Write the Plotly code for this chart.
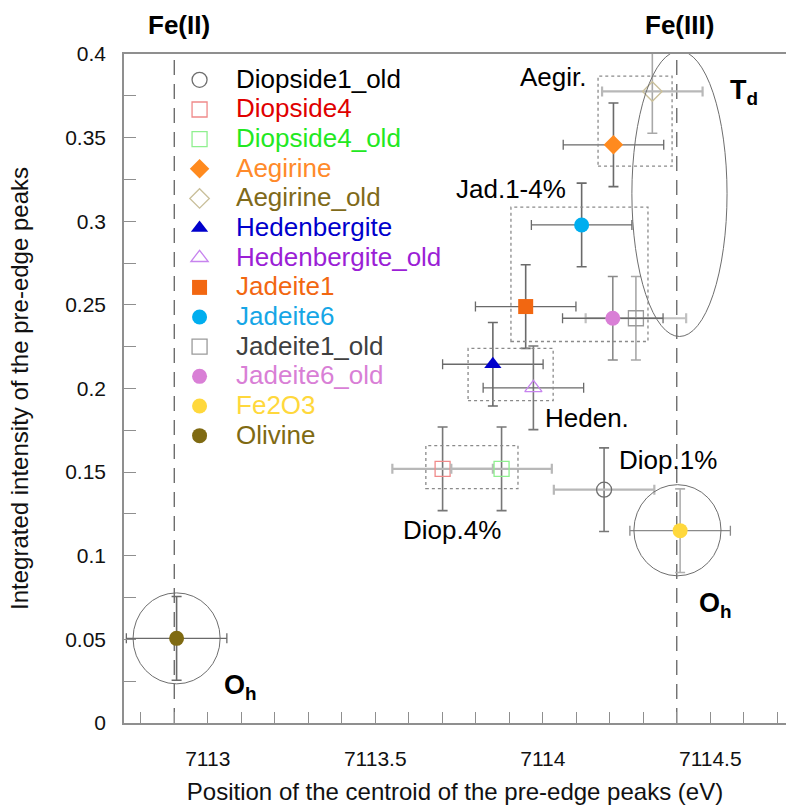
import plotly.graph_objects as go

# ---------------- data ----------------
names = ["Diopside1_old", "Diopside4", "Diopside4_old", "Aegirine", "Aegirine_old",
         "Hedenbergite", "Hedenbergite_old", "Jadeite1", "Jadeite6", "Jadeite1_old",
         "Jadeite6_old", "Fe2O3", "Olivine"]
centroid_ev = [7114.183, 7113.701, 7113.877, 7114.211, 7114.327,
               7113.851, 7113.972, 7113.949, 7114.116, 7114.278,
               7114.209, 7114.410, 7112.907]
intensity = [0.1395, 0.152, 0.152, 0.3457, 0.3776,
             0.2145, 0.2004, 0.249, 0.2978, 0.242,
             0.242, 0.115, 0.0506]
centroid_err = [0.15, 0.15, 0.15, 0.15, 0.15, 0.15, 0.15, 0.15, 0.15, 0.15, 0.15, 0.15, 0.15]
intensity_err = [0.025, 0.025, 0.025, 0.025, 0.025, 0.025, 0.025, 0.025, 0.025, 0.025, 0.025, 0.025, 0.025]

x_tick_vals = [7113, 7113.5, 7114, 7114.5]
x_tick_text = ["7113", "7113.5", "7114", "7114.5"]
y_tick_vals = [0, 0.05, 0.1, 0.15, 0.2, 0.25, 0.3, 0.35, 0.4]
y_tick_text = ["0", "0.05", "0.1", "0.15", "0.2", "0.25", "0.3", "0.35", "0.4"]

fe2_position = 7112.9
fe3_position = 7114.4

# grouping regions (x0, x1, y0, y1)
dotted_boxes = [
    (7114.165, 7114.386, 0.3329, 0.3868),   # Aegir.
    (7113.905, 7114.314, 0.2281, 0.3084),   # Jad.1-4%
    (7113.777, 7114.031, 0.1928, 0.2240),   # Heden.
    (7113.651, 7113.926, 0.1401, 0.1659),   # Diop.4%
]
ellipses = [
    (7114.266, 7114.550, 0.2311, 0.4018),   # Td
    (7114.272, 7114.532, 0.0880, 0.1425),   # Oh Fe(III)
    (7112.777, 7113.037, 0.0234, 0.0778),   # Oh Fe(II)
]

# ---------------- styles ----------------
symbols = ["circle-open", "square-open", "square-open", "diamond", "diamond-open",
           "triangle-up", "triangle-up-open", "square", "circle", "square-open",
           "circle", "circle", "circle"]
marker_colors = ["#6e6e6e", "#f08a8a", "#8ff08f", "#ff8a1e", "#c9bf9a",
                 "#0000cc", "#c784ee", "#f26711", "#00aeef", "#9a9a9a",
                 "#d97fd6", "#ffd83c", "#7f6a12"]
label_colors = ["#000000", "#e00000", "#22e822", "#ff8a2a", "#7f6a1a",
                "#0000cc", "#9b1fd6", "#f26711", "#16a6e6", "#404040",
                "#d97fd6", "#ffd83c", "#7f6a12"]
errx_colors = ["#b8b8b8", "#b8b8b8", "#b8b8b8", "#6a6a6a", "#b8b8b8",
               "#6a6a6a", "#6a6a6a", "#6a6a6a", "#6a6a6a", "#c0c0c0",
               "#6a6a6a", "#8a8a8a", "#6a6a6a"]
erry_colors = ["#777777", "#777777", "#777777", "#6a6a6a", "#a8a8a8",
               "#6a6a6a", "#777777", "#6a6a6a", "#6a6a6a", "#a8a8a8",
               "#8a8a8a", "#b0b0b0", "#6a6a6a"]

FONT = "Liberation Sans, Arial, sans-serif"

fig = go.Figure()
for i, nm in enumerate(names):
    is_open = symbols[i].endswith("open")
    fig.add_trace(go.Scatter(
        x=[centroid_ev[i]], y=[intensity[i]],
        mode="markers",
        name=f"<span style='color:{label_colors[i]};font-size:26px'>{nm}</span>",
        legendgroup=nm,
        marker=dict(symbol=symbols[i], size=15, color=marker_colors[i],
                    line=dict(width=1.3 if is_open else 0, color=marker_colors[i])),
        error_x=dict(type="data", array=[centroid_err[i]], color=errx_colors[i],
                     thickness=2.2 if errx_colors[i] in ("#b8b8b8", "#c0c0c0") else 1.3, width=5),
        error_y=dict(type="data", array=[intensity_err[i]], color=erry_colors[i],
                     thickness=1.6, width=5),
        cliponaxis=True,
    ))

shapes = []
for vx in (fe2_position, fe3_position):
    shapes.append(dict(type="line", xref="x", yref="y", x0=vx, x1=vx, y0=0, y1=0.4,
                       line=dict(color="#555555", width=1.2, dash="15px,9px"), layer="below"))
for (x0, x1, y0, y1) in dotted_boxes:
    shapes.append(dict(type="rect", xref="x", yref="y", x0=x0, x1=x1, y0=y0, y1=y1,
                       line=dict(color="#8a8a8a", width=1.3, dash="dot")))
for (x0, x1, y0, y1) in ellipses:
    shapes.append(dict(type="circle", xref="x", yref="y", x0=x0, x1=x1, y0=y0, y1=y1,
                       line=dict(color="#6e6e6e", width=1)))

LBL = dict(size=26, family=FONT, color="black")
SYM = dict(size=27, family=FONT, color="black")
annotations = [
    dict(x=fe2_position, y=1.043, xref="x", yref="paper", text="<b>Fe(II)</b>", showarrow=False,
         font=LBL, yanchor="middle", xshift=5),
    dict(x=fe3_position, y=1.043, xref="x", yref="paper", text="<b>Fe(III)</b>", showarrow=False,
         font=LBL, yanchor="middle", xshift=3),
    dict(x=7114.60, y=0.377, text="<b>T<sub>d</sub></b>", showarrow=False, font=SYM),
    dict(x=7114.515, y=0.0705, text="<b>O<sub>h</sub></b>", showarrow=False, font=SYM),
    dict(x=7113.097, y=0.0215, text="<b>O<sub>h</sub></b>", showarrow=False, font=SYM),
    dict(x=7114.031, y=0.3862, text="Aegir.", showarrow=False, font=LBL),
    dict(x=7113.905, y=0.3192, text="Jad.1-4%", showarrow=False, font=LBL),
    dict(x=7114.132, y=0.1826, text="Heden.", showarrow=False, font=LBL),
    dict(x=7114.374, y=0.1575, text="Diop.1%", showarrow=False, font=LBL),
    dict(x=7113.729, y=0.1156, text="Diop.4%", showarrow=False, font=LBL),
]

axis_line = "#8f8f8f"
fig.update_layout(
    width=786, height=805,
    margin=dict(l=124, r=0, t=54, b=82, autoexpand=False),
    paper_bgcolor="white", plot_bgcolor="white",
    font=dict(family=FONT, color="#111111"),
    showlegend=True,
    legend=dict(x=0.059, y=0.991, xanchor="left", yanchor="top",
                font=dict(size=20.5, family=FONT), bgcolor="rgba(0,0,0,0)",
                tracegroupgap=0, itemwidth=63, borderwidth=0),
    shapes=shapes,
    annotations=annotations,
    xaxis=dict(range=[7112.75, 7114.726], tickvals=x_tick_vals, ticktext=x_tick_text,
               automargin=False,
               showgrid=False, zeroline=False, showline=True, linecolor=axis_line, linewidth=1.5,
               mirror=True, ticks="inside", ticklen=11, tickcolor=axis_line, tickwidth=1,
               minor=dict(dtick=0.1, tick0=7112.8, ticks="inside", ticklen=11,
                          tickcolor=axis_line, tickwidth=1, showgrid=False),
               tickfont=dict(size=21, family=FONT, color="#111111"),
               ticklabelstandoff=16,
               title=dict(text="Position of the centroid of the pre-edge peaks (eV)",
                          font=dict(size=24, family=FONT, color="#111111"), standoff=24)),
    yaxis=dict(range=[0, 0.4], tickvals=y_tick_vals, ticktext=y_tick_text,
               automargin=False,
               showgrid=False, zeroline=False, showline=True, linecolor=axis_line, linewidth=1.5,
               mirror=False, ticks="inside", ticklen=12, tickcolor=axis_line, tickwidth=1,
               minor=dict(dtick=0.025, tick0=0, ticks="inside", ticklen=12,
                          tickcolor=axis_line, tickwidth=1, showgrid=False),
               tickfont=dict(size=21, family=FONT, color="#111111"),
               ticklabelstandoff=12,
               title=dict(text="Integrated intensity of the pre-edge peaks",
                          font=dict(size=24, family=FONT, color="#111111"), standoff=30)),
)

# remove the default 8px page margin so the figure starts at the window's corner
page_reset = ("document.body.style.margin='0';"
              "document.documentElement.style.overflow='hidden';"
              "document.body.style.overflow='hidden';")
fig.write_html("out.html", post_script=page_reset, config={"displayModeBar": False})
